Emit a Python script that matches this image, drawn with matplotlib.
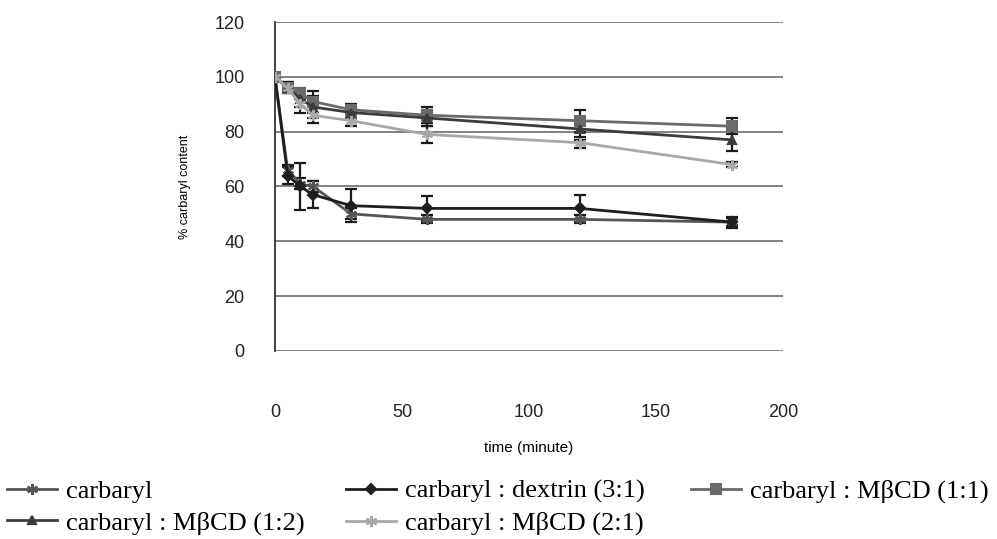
import matplotlib.pyplot as plt

# data
tempo = [0, 5, 10, 15, 30, 60, 120, 180]

carbaryl = [100, 66, 61, 60, 50, 48, 48, 47]
carbaryl_err = [0, 2, 2, 2, 2, 1.5, 1.5, 1.5]

dextrin = [100, 64, 60, 57, 53, 52, 52, 47]
dextrin_err = [0, 3, 8.5, 5, 6, 4.5, 5, 2]

mbcd_11 = [100, 96, 94, 91, 88, 86, 84, 82]
mbcd_11_err = [0, 2, 2, 4, 2, 3, 4, 3]

mbcd_12 = [100, 96, 92, 89, 87, 85, 81, 77]
mbcd_12_err = [0, 2, 3, 4, 2, 3, 4, 4]

mbcd_21 = [100, 96, 90, 86, 84, 79, 76, 68]
mbcd_21_err = [0, 1, 3, 3, 2, 3, 2, 1]

rotulos = ['carbaryl', 'carbaryl : dextrin (3:1)', 'carbaryl : M\u03b2CD (1:1)',
           'carbaryl : M\u03b2CD (1:2)', 'carbaryl : M\u03b2CD (2:1)']

fig = plt.figure(figsize=(9.97, 5.39), dpi=100)
ax = fig.add_axes([0.2758, 0.349, 0.5095, 0.610])

series = [
    (carbaryl, carbaryl_err, '#555555', (6, 2, 0), 8),
    (dextrin, dextrin_err, '#1e1e1e', 'D', 5),
    (mbcd_11, mbcd_11_err, '#6a6a6a', 's', 7),
    (mbcd_12, mbcd_12_err, '#3c3c3c', '^', 6),
    (mbcd_21, mbcd_21_err, '#a8a8a8', (6, 2, 0), 8),
]

linhas = []
for (y, e, cor, mk, ms), nome in zip(series, rotulos):
    ax.errorbar(tempo, y, yerr=e, fmt='none', ecolor='#1a1a1a', elinewidth=1.6,
                capsize=4, capthick=1.6, zorder=2)
    l, = ax.plot(tempo, y, color=cor, lw=2, marker=mk, ms=ms, mec=cor, mew=1.5,
                 label=nome, zorder=3)
    linhas.append(l)

ax.set_xlim(0, 200)
ax.set_ylim(0, 120)
ax.set_yticks(range(0, 121, 20))
ax.set_xticks(range(0, 201, 50))
ax.grid(axis='y', color='#777777', lw=1.3)
ax.set_axisbelow(True)
for s in ['top', 'right', 'bottom']:
    ax.spines[s].set_visible(False)
ax.spines['left'].set_color('#333333')
ax.spines['left'].set_linewidth(1.3)
ax.tick_params(axis='both', length=0, labelsize=13, colors='#222222')
ax.tick_params(axis='x', pad=38)
ax.tick_params(axis='y', pad=22)
for t in ax.get_xticklabels() + ax.get_yticklabels():
    t.set_family('Liberation Sans')

ax.set_xlabel('time (minute)', fontsize=11, family='Liberation Sans')
ax.set_ylabel('% carbaryl content', fontsize=9, family='Liberation Sans', labelpad=17)
ax.xaxis.set_label_coords(0.5, -0.275)

# legenda em tres colunas posicionadas a mao
colunas = [([linhas[0], linhas[3]], -0.004), ([linhas[1], linhas[4]], 0.336), ([linhas[2]], 0.682)]
for hs, x0 in colunas:
    fig.legend(handles=hs, labels=[h.get_label() for h in hs], loc='upper left',
               bbox_to_anchor=(x0, 0.13), frameon=False, handlelength=1.9,
               handletextpad=0.35, labelspacing=0.3, borderaxespad=0.0,
               prop={'family': 'Liberation Serif', 'size': 19})

fig.savefig('out.png', dpi=100)
